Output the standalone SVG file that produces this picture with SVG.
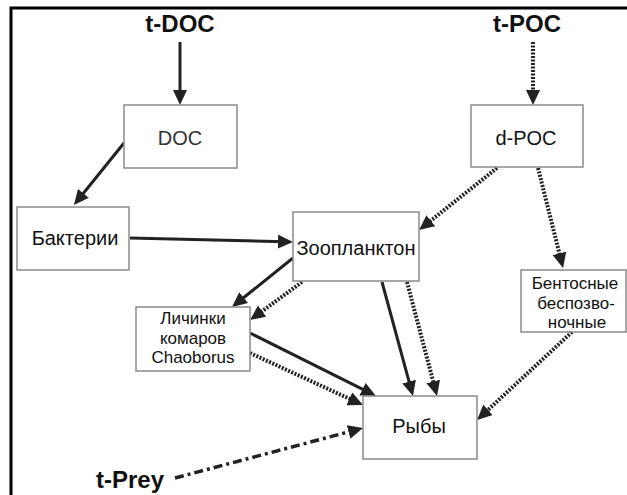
<svg xmlns="http://www.w3.org/2000/svg" width="627" height="495" viewBox="0 0 627 495">
<style>
.box{fill:#fff;stroke:#8a8a8a;stroke-width:1.5}
.t{font-family:"Liberation Sans",Arial,sans-serif;font-size:20px;fill:#111;text-anchor:middle}
.m{font-size:17px}
.big{font-family:"Liberation Sans",Arial,sans-serif;font-size:24px;font-weight:bold;fill:#111;text-anchor:middle}
.s{stroke:#222;stroke-width:3;fill:none;marker-end:url(#ah)}
.d{stroke:#222;stroke-width:4;stroke-dasharray:2,1.5;fill:none;marker-end:url(#ah)}
.dd{stroke:#222;stroke-width:3.5;stroke-dasharray:9,4,3,4;fill:none;marker-end:url(#ah)}
</style>
<defs>
<marker id="ah" markerUnits="userSpaceOnUse" markerWidth="16" markerHeight="14" viewBox="0 0 16 14" refX="7" refY="7" orient="auto">
<path d="M0,0 L15,7 L0,14 z" fill="#222"/>
</marker>
</defs>
<rect width="627" height="495" fill="#fff"/>
<path d="M11,495 V8 H627" fill="none" stroke="#000" stroke-width="3"/>
<text class="big" x="180" y="32">t-DOC</text>
<text class="big" x="527" y="32">t-POC</text>
<text class="big" x="130" y="488">t-Prey</text>
<g id="connectors">
<line class="s" x1="180" y1="42" x2="180" y2="97"/>
<line class="s" x1="124" y1="143" x2="79" y2="198.8"/>
<line class="s" x1="130" y1="238" x2="285" y2="241.8"/>
<line class="d" x1="533" y1="42" x2="533" y2="97"/>
<line class="d" x1="497" y1="168" x2="425.3" y2="225"/>
<line class="d" x1="538" y1="168" x2="561.1" y2="260.2"/>
<line class="s" x1="293" y1="258" x2="238.2" y2="302"/>
<line class="d" x1="302" y1="282" x2="256.5" y2="315.3"/>
<line class="s" x1="250" y1="333" x2="368.8" y2="392.4"/>
<line class="d" x1="250" y1="353" x2="355.7" y2="401.7"/>
<line class="s" x1="382" y1="282" x2="410.9" y2="388.3"/>
<line class="d" x1="407" y1="282" x2="435" y2="388.3"/>
<line class="d" x1="572" y1="332" x2="482.9" y2="414.6"/>
<line class="dd" x1="175" y1="478" x2="355.3" y2="430.1"/>
</g>
<g id="doc"><rect class="box" x="124" y="105" width="113" height="63"/><text class="t" x="180" y="145" style="fill:#333">DOC</text></g>
<g id="dpoc"><rect class="box" x="471" y="105" width="112" height="62"/><text class="t" x="526" y="145">d-POC</text></g>
<g id="bakterii"><rect class="box" x="17" y="207" width="112" height="63"/><text class="t" x="75" y="245">Бактерии</text></g>
<g id="zoo"><rect class="box" x="293" y="212" width="126" height="69"/><text class="t" x="356" y="255">Зоопланктон</text></g>
<g id="lichinki"><rect class="box" x="136" y="307" width="114" height="64"/><text class="t m" x="193" y="324">Личинки</text><text class="t m" x="193" y="343.5">комаров</text><text class="t m" x="193" y="363">Chaoborus</text></g>
<g id="bentos"><rect class="box" x="521" y="270" width="105" height="62"/><text class="t m" x="575" y="289">Бентосные</text><text class="t m" x="576" y="308.5">беспозво-</text><text class="t m" x="577" y="328">ночные</text></g>
<g id="ryby"><rect class="box" x="363" y="396" width="114" height="63"/><text class="t" x="419" y="433">Рыбы</text></g>
</svg>
